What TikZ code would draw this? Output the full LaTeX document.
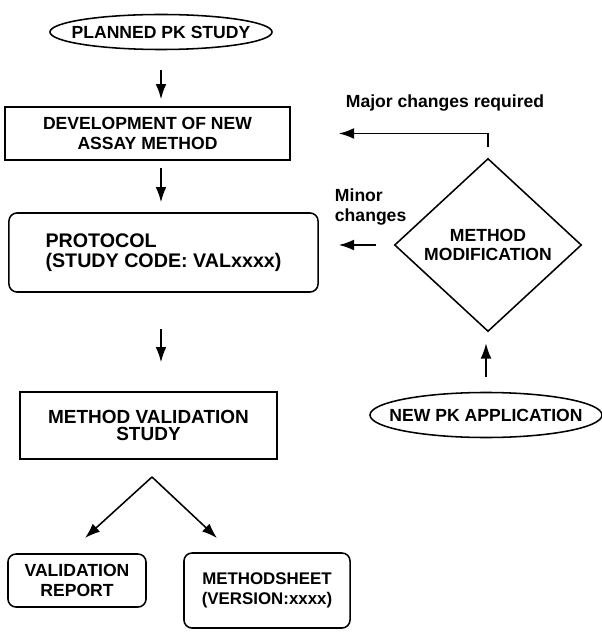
\documentclass[tikz,border=0pt]{standalone}
\usepackage{fontspec}
\setmainfont{Liberation Sans}
\usetikzlibrary{shapes.geometric,arrows.meta}

\begin{document}
\begin{tikzpicture}[x=0.025cm,y=-0.025cm]
\tikzset{every node/.style={font=\fontsize{12.5}{14}\selectfont\bfseries},
box/.style={draw,rectangle,align=center,line width=1.1pt},
rbox/.style={box,rounded corners=0.2cm},
oval/.style={draw,ellipse,inner sep=0pt,line width=1.1pt},
decision/.style={draw,diamond,align=center,inner sep=0pt,line width=1.1pt},
flow/.style={-{Latex[length=0.38cm,width=0.27cm]},line width=1.1pt}}
\useasboundingbox[fill=white] (0,0) rectangle (601,635);

\node[oval,minimum width=5.55cm,minimum height=0.875cm] (planned) at (161,32) {\makebox[0pt]{PLANNED PK STUDY}};
\node[box,minimum width=7.125cm,minimum height=1.325cm] (dev) at (147.5,133.5) {DEVELOPMENT OF NEW\\ASSAY METHOD};
\node[rbox,align=left,minimum width=7.725cm,minimum height=1.975cm,font=\fontsize{14}{14}\selectfont\bfseries] (protocol) at (163.5,252.5) {PROTOCOL\\(STUDY CODE: VALxxxx)};
\node[box,minimum width=6.425cm,minimum height=1.675cm,font=\fontsize{13.5}{12.5}\selectfont\bfseries] (valstudy) at (148.5,425.5) {METHOD VALIDATION\\STUDY};
\node[rbox,minimum width=3.45cm,minimum height=1.325cm] (report) at (77,580.5) {VALIDATION\\REPORT};
\node[rbox,minimum width=4.15cm,minimum height=1.875cm,font=\fontsize{12}{14}\selectfont\bfseries] (sheet) at (267,590.5) {METHODSHEET\\(VERSION:xxxx)};
\node[decision,minimum width=4.675cm,minimum height=4.325cm] (modif) at (488,245) {METHOD\\MODIFICATION};
\node[oval,minimum width=5.8cm,minimum height=1.125cm] (newapp) at (486,415) {\makebox[0pt]{NEW PK APPLICATION}};
\node (major) at (445,103) {Major changes required};
\node[anchor=west,align=left] (minor) at (330,207) {Minor\\changes};

\coordinate (split) at (152,477);
\coordinate (reptip) at (85,538);
\coordinate (sheettip) at (217,538);

\draw[flow,shorten <=0.5cm,shorten >=0.175cm] (planned.south) -- (planned.south |- dev.north);
\draw[flow,shorten <=0.175cm,shorten >=0.25cm] (planned |- dev.south) -- (planned |- protocol.north);
\draw[flow,shorten <=0.9cm,shorten >=0.725cm] (planned |- protocol.south) -- (planned |- valstudy.north);
\draw[flow] (split) -- (reptip);
\draw[flow] (split) -- (sheettip);
\draw[flow,shorten <=0.275cm,shorten >=1.2cm] (modif.north) |- (dev.east);
\draw[flow,shorten <=0.45cm,shorten >=0.5cm] (modif.west) -- (modif.west -| protocol.east);
\draw[flow,shorten <=0.375cm,shorten >=0.275cm] (newapp.north) -- (newapp.north |- modif.south);
\end{tikzpicture}
\end{document}
